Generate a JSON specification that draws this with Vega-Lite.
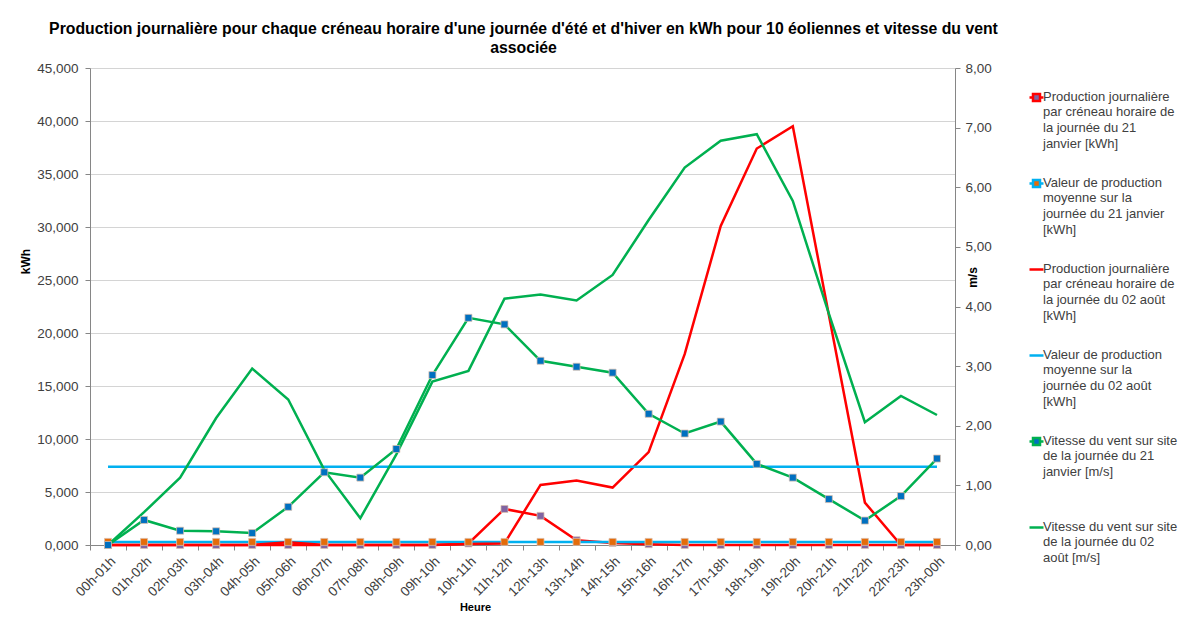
{
  "$schema": "https://vega.github.io/schema/vega-lite/v6.json",
  "width": 865,
  "height": 477,
  "autosize": "none",
  "padding": {"left": 90, "top": 68, "right": 234, "bottom": 74},
  "background": "white",
  "title": {
    "text": ["Production journalière pour chaque créneau horaire d'une journée d'été et d'hiver en kWh pour 10 éoliennes et vitesse du vent", "\u00a0\u00a0\u00a0\u00a0\u00a0\u00a0\u00a0\u00a0\u00a0\u00a0\u00a0\u00a0\u00a0\u00a0\u00a0\u00a0associée"],
    "font": "Liberation Sans",
    "fontSize": 15.8,
    "fontWeight": "bold",
    "color": "#000000",
    "lineHeight": 19,
    "anchor": "middle",
    "offset": 4,
    "dx": 1
  },
  "config": {
    "locale": {"number": {"decimal": ",", "thousands": " ", "grouping": [3], "currency": ["", " €"]}},
    "font": "Liberation Sans",
    "view": {"stroke": null},
    "axis": {
      "labelFont": "Liberation Sans",
      "labelFontSize": 13.5,
      "labelColor": "#404040",
      "titleFont": "Liberation Sans",
      "titleFontSize": 12,
      "titleFontWeight": "bold",
      "titleColor": "#000000",
      "domainColor": "#868686",
      "tickColor": "#868686",
      "gridColor": "#d4d4d4",
      "tickSize": 5
    }
  },
  "data": {
    "values": [
      {"heure": "00h-01h", "prod_jan": 0, "moy_jan": 0.293, "prod_aout": 0, "moy_aout": 7.38, "vent_jan": 0.0, "vent_aout": 0.0},
      {"heure": "01h-02h", "prod_jan": 0, "moy_jan": 0.293, "prod_aout": 0, "moy_aout": 7.38, "vent_jan": 0.42, "vent_aout": 0.55},
      {"heure": "02h-03h", "prod_jan": 0, "moy_jan": 0.293, "prod_aout": 0, "moy_aout": 7.38, "vent_jan": 0.24, "vent_aout": 1.13},
      {"heure": "03h-04h", "prod_jan": 0, "moy_jan": 0.293, "prod_aout": 0, "moy_aout": 7.38, "vent_jan": 0.23, "vent_aout": 2.13},
      {"heure": "04h-05h", "prod_jan": 0, "moy_jan": 0.293, "prod_aout": 0, "moy_aout": 7.38, "vent_jan": 0.2, "vent_aout": 2.96},
      {"heure": "05h-06h", "prod_jan": 0, "moy_jan": 0.293, "prod_aout": 0.25, "moy_aout": 7.38, "vent_jan": 0.64, "vent_aout": 2.44},
      {"heure": "06h-07h", "prod_jan": 0, "moy_jan": 0.293, "prod_aout": 0, "moy_aout": 7.38, "vent_jan": 1.22, "vent_aout": 1.26},
      {"heure": "07h-08h", "prod_jan": 0, "moy_jan": 0.293, "prod_aout": 0, "moy_aout": 7.38, "vent_jan": 1.13, "vent_aout": 0.45},
      {"heure": "08h-09h", "prod_jan": 0, "moy_jan": 0.293, "prod_aout": 0, "moy_aout": 7.38, "vent_jan": 1.61, "vent_aout": 1.52},
      {"heure": "09h-10h", "prod_jan": 0, "moy_jan": 0.293, "prod_aout": 0, "moy_aout": 7.38, "vent_jan": 2.85, "vent_aout": 2.74},
      {"heure": "10h-11h", "prod_jan": 0.15, "moy_jan": 0.293, "prod_aout": 0.1, "moy_aout": 7.38, "vent_jan": 3.81, "vent_aout": 2.92},
      {"heure": "11h-12h", "prod_jan": 3.4, "moy_jan": 0.293, "prod_aout": 0.15, "moy_aout": 7.38, "vent_jan": 3.7, "vent_aout": 4.13},
      {"heure": "12h-13h", "prod_jan": 2.75, "moy_jan": 0.293, "prod_aout": 5.67, "moy_aout": 7.38, "vent_jan": 3.09, "vent_aout": 4.2},
      {"heure": "13h-14h", "prod_jan": 0.45, "moy_jan": 0.293, "prod_aout": 6.08, "moy_aout": 7.38, "vent_jan": 2.99, "vent_aout": 4.1},
      {"heure": "14h-15h", "prod_jan": 0.2, "moy_jan": 0.293, "prod_aout": 5.42, "moy_aout": 7.38, "vent_jan": 2.89, "vent_aout": 4.53},
      {"heure": "15h-16h", "prod_jan": 0.08, "moy_jan": 0.293, "prod_aout": 8.76, "moy_aout": 7.38, "vent_jan": 2.2, "vent_aout": 5.45},
      {"heure": "16h-17h", "prod_jan": 0, "moy_jan": 0.293, "prod_aout": 18.0, "moy_aout": 7.38, "vent_jan": 1.87, "vent_aout": 6.33},
      {"heure": "17h-18h", "prod_jan": 0, "moy_jan": 0.293, "prod_aout": 30.1, "moy_aout": 7.38, "vent_jan": 2.07, "vent_aout": 6.78},
      {"heure": "18h-19h", "prod_jan": 0, "moy_jan": 0.293, "prod_aout": 37.4, "moy_aout": 7.38, "vent_jan": 1.36, "vent_aout": 6.89},
      {"heure": "19h-20h", "prod_jan": 0, "moy_jan": 0.293, "prod_aout": 39.5, "moy_aout": 7.38, "vent_jan": 1.13, "vent_aout": 5.77},
      {"heure": "20h-21h", "prod_jan": 0, "moy_jan": 0.293, "prod_aout": 21.7, "moy_aout": 7.38, "vent_jan": 0.77, "vent_aout": 3.88},
      {"heure": "21h-22h", "prod_jan": 0, "moy_jan": 0.293, "prod_aout": 4.0, "moy_aout": 7.38, "vent_jan": 0.41, "vent_aout": 2.06},
      {"heure": "22h-23h", "prod_jan": 0, "moy_jan": 0.293, "prod_aout": 0, "moy_aout": 7.38, "vent_jan": 0.82, "vent_aout": 2.5},
      {"heure": "23h-00h", "prod_jan": 0, "moy_jan": 0.293, "prod_aout": 0, "moy_aout": 7.38, "vent_jan": 1.45, "vent_aout": 2.18}
    ]
  },
  "encoding": {
    "x": {
      "field": "heure",
      "type": "ordinal",
      "sort": null,
      "scale": {"type": "band", "paddingInner": 0, "paddingOuter": 0},
      "axis": {
        "title": "Heure",
        "titleFontSize": 11,
        "labelAngle": -45,
        "tickBand": "extent",
        "labelPadding": 4,
        "titleX": 385,
        "titleY": 56
      }
    }
  },
  "layer": [
    {
      "transform": [{"fold": ["prod_jan", "moy_jan", "prod_aout", "moy_aout"], "as": ["serie", "valeur"]}],
      "encoding": {
        "y": {
          "field": "valeur",
          "type": "quantitative",
          "scale": {"domain": [0, 45], "nice": false, "zero": true},
          "axis": {
            "title": "kWh",
            "orient": "left",
            "values": [0, 5, 10, 15, 20, 25, 30, 35, 40, 45],
            "format": ".3f",
            "grid": true,
            "labelPadding": 7,
            "titlePadding": 4,
            "titleY": 193
          }
        }
      },
      "layer": [
        {
          "mark": {"type": "line", "strokeWidth": 2.5},
          "encoding": {
            "color": {
              "field": "serie",
              "type": "nominal",
              "scale": {
                "domain": ["prod_jan", "moy_jan", "prod_aout", "moy_aout", "vent_jan", "vent_aout"],
                "range": ["#ff0000", "#00b0f0", "#ff0000", "#00b0f0", "#00b050", "#00b050"]
              },
              "legend": {
                "title": null,
                "orient": "none",
                "legendX": 938,
                "legendY": 21,
                "gridAlign": "all",
                "rowPadding": 24,
                "symbolSize": 196,
                "symbolStrokeWidth": 2.5,
                "labelFont": "Liberation Sans",
                "labelFontSize": 13,
                "labelColor": "#404040",
                "labelLimit": 300,
                "labelOffset": -2,
                "labelBaseline": "top",
                "labelExpr": "datum.value == 'prod_jan' ? ['Production journalière', 'par créneau horaire de', 'la journée du 21', 'janvier [kWh]'] : datum.value == 'moy_jan' ? ['Valeur de production', 'moyenne sur la', 'journée du 21 janvier', '[kWh]'] : datum.value == 'prod_aout' ? ['Production journalière', 'par créneau horaire de', 'la journée du 02 août', '[kWh]'] : datum.value == 'moy_aout' ? ['Valeur de production', 'moyenne sur la', 'journée du 02 août', '[kWh]'] : datum.value == 'vent_jan' ? ['Vitesse du vent sur site', 'de la journée du 21', 'janvier [m/s]'] : ['Vitesse du vent sur site', 'de la journée du 02', 'août [m/s]']",
                "encode": {
                  "symbols": {
                    "update": {
                      "shape": {"signal": "indexof(['prod_jan','moy_jan','vent_jan'], datum.value) >= 0 ? 'M-1,0H-0.5M0.5,0H1M-0.5,-0.5H0.5V0.5H-0.5Z' : 'M-1,0H1'"},
                      "fill": {"signal": "datum.value == 'prod_jan' ? '#8064a2' : datum.value == 'moy_jan' ? '#e46c0a' : datum.value == 'vent_jan' ? '#0070c0' : 'transparent'"},
                      "strokeWidth": {"value": 2.5}
                    }
                  },
                  "labels": {"update": {"lineHeight": {"value": 15.7}, "dy": {"value": -7}}}
                }
              }
            }
          }
        },
        {
          "transform": [{"filter": "datum.serie == 'prod_jan' || datum.serie == 'moy_jan'"}],
          "mark": {"type": "point", "shape": "square", "filled": true, "size": 49, "opacity": 1, "stroke": "#d9bfae", "strokeWidth": 0.75},
          "encoding": {
            "fill": {
              "field": "serie",
              "type": "nominal",
              "scale": {"domain": ["prod_jan", "moy_jan", "vent_jan"], "range": ["#8064a2", "#e46c0a", "#0070c0"]},
              "legend": null
            }
          }
        }
      ]
    },
    {
      "transform": [{"fold": ["vent_jan", "vent_aout"], "as": ["serie", "valeur"]}],
      "encoding": {
        "y": {
          "field": "valeur",
          "type": "quantitative",
          "scale": {"domain": [0, 8], "nice": false, "zero": true},
          "axis": {
            "title": "m/s",
            "orient": "right",
            "values": [0, 1, 2, 3, 4, 5, 6, 7, 8],
            "format": ".2f",
            "grid": false,
            "labelPadding": 5,
            "titleAngle": -90,
            "titleX": 24,
            "titleY": 209
          }
        }
      },
      "layer": [
        {
          "mark": {"type": "line", "strokeWidth": 2.5},
          "encoding": {
            "color": {"field": "serie", "type": "nominal"}
          }
        },
        {
          "transform": [{"filter": "datum.serie == 'vent_jan'"}],
          "mark": {"type": "point", "shape": "square", "filled": true, "size": 49, "opacity": 1, "stroke": "#d9bfae", "strokeWidth": 0.75},
          "encoding": {
            "fill": {"field": "serie", "type": "nominal", "legend": null}
          }
        }
      ]
    }
  ],
  "resolve": {"scale": {"y": "independent"}}
}
